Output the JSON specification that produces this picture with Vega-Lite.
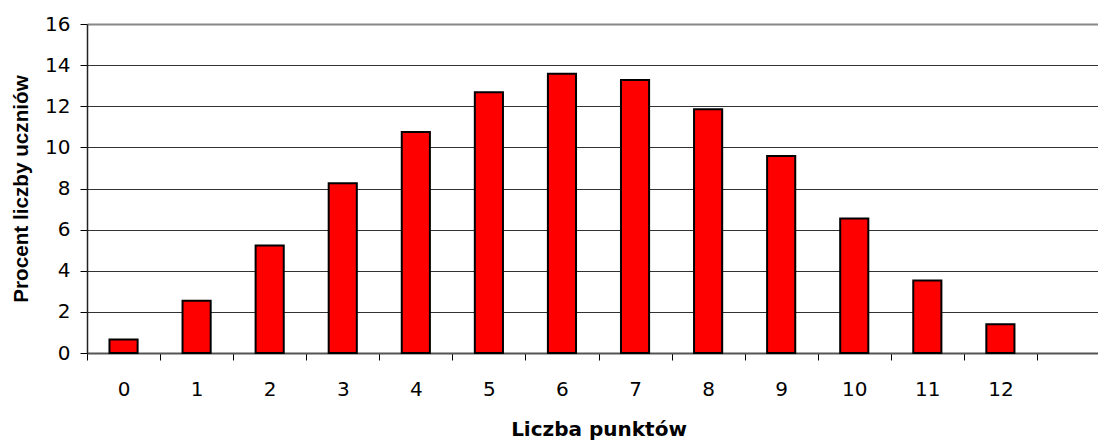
{
  "$schema": "https://vega.github.io/schema/vega-lite/v6.json",
  "width": 1011,
  "height": 329,
  "autosize": {"type": "none"},
  "padding": {"left": 87, "top": 24, "right": 0, "bottom": 87},
  "background": "white",
  "config": {"view": {"stroke": null}},
  "data": {
    "values": [
      {"punkty": 0, "procent": 0.66},
      {"punkty": 1, "procent": 2.54},
      {"punkty": 2, "procent": 5.23},
      {"punkty": 3, "procent": 8.26},
      {"punkty": 4, "procent": 10.75},
      {"punkty": 5, "procent": 12.68},
      {"punkty": 6, "procent": 13.58},
      {"punkty": 7, "procent": 13.28},
      {"punkty": 8, "procent": 11.85},
      {"punkty": 9, "procent": 9.58},
      {"punkty": 10, "procent": 6.54},
      {"punkty": 11, "procent": 3.53},
      {"punkty": 12, "procent": 1.4}
    ]
  },
  "mark": {
    "type": "bar",
    "fill": "#FF0000",
    "stroke": "#000000",
    "strokeWidth": 2,
    "width": {"band": 0.385}
  },
  "encoding": {
    "x": {
      "field": "punkty",
      "type": "ordinal",
      "scale": {
        "domain": [0, 1, 2, 3, 4, 5, 6, 7, 8, 9, 10, 11, 12, 13],
        "range": [0, 1023],
        "paddingInner": 0,
        "paddingOuter": 0
      },
      "axis": {
        "title": "Liczba punktów",
        "titleFont": "DejaVu Sans",
        "titleFontSize": 20,
        "titleFontWeight": "bold",
        "titleColor": "#000000",
        "titlePadding": 20,
        "labelFont": "DejaVu Sans",
        "labelFontSize": 20,
        "labelColor": "#000000",
        "labelAngle": 0,
        "labelPadding": 19,
        "labelExpr": "datum.value == 13 ? '' : datum.label",
        "tickBand": "extent",
        "tickSize": 7,
        "tickColor": "#000000",
        "tickWidth": 1,
        "domainColor": "#555555",
        "domainWidth": 2,
        "grid": false
      }
    },
    "y": {
      "field": "procent",
      "type": "quantitative",
      "scale": {"domain": [0, 16], "nice": false},
      "axis": {
        "title": "Procent liczby uczniów",
        "titleFont": "Liberation Sans",
        "titleFontSize": 20.7,
        "titleFontWeight": "bold",
        "titleColor": "#000000",
        "titlePadding": 13,
        "values": [0, 2, 4, 6, 8, 10, 12, 14, 16],
        "labelFont": "DejaVu Sans",
        "labelFontSize": 20,
        "labelColor": "#000000",
        "labelPadding": 10,
        "tickSize": 7,
        "tickColor": "#000000",
        "tickWidth": 1,
        "domainColor": "#222222",
        "domainWidth": 1.5,
        "grid": true,
        "gridColor": {"condition": {"test": "datum.value === 16", "value": "#888888"}, "value": "#333333"},
        "gridWidth": {"condition": {"test": "datum.value === 16", "value": 2}, "value": 1}
      }
    }
  }
}
